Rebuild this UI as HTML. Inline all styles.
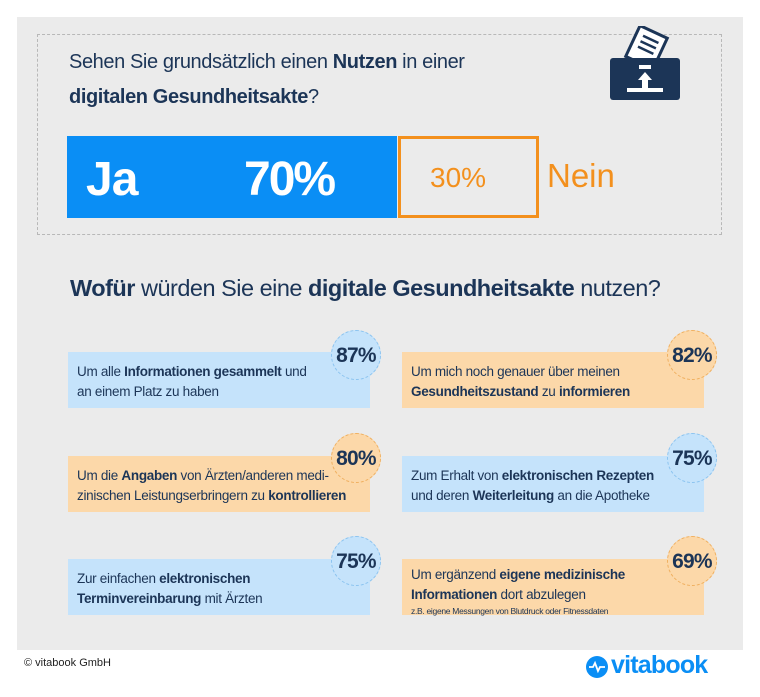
<!DOCTYPE html>
<html><head><meta charset="utf-8"><style>
*{margin:0;padding:0;box-sizing:border-box}
body{width:760px;height:697px;background:#fff;position:relative;font-family:"Liberation Sans",sans-serif;color:#1c3557;overflow:hidden}
.abs{position:absolute}
.panel{left:17px;top:17px;width:726px;height:633px;background:#ebebeb}
.dash{left:37px;top:34px;width:685px;height:201px;border:1px dashed #b8b8b8}
.q{left:69px;font-size:20px;letter-spacing:-0.4px;line-height:28px;color:#1c3557}
.box{width:302px;height:56px;font-size:13.5px;line-height:20px;padding:10px 0 0 9px;letter-spacing:-0.3px}
.bl{background:#c5e3fb}.or{background:#fcd8a9}
.c{width:50px;height:50px;border-radius:50%;font-weight:bold;font-size:21px;text-align:center;line-height:50px;letter-spacing:-0.8px}
.cb{background:#c5e3fb;border:1px dashed #8cc4f0}.co{background:#fcd8a9;border:1px dashed #f0b060}
b{font-weight:bold}
</style></head><body>
<div class="abs panel"></div>
<div class="abs dash"></div>
<div class="abs q" style="top:48px">Sehen Sie grundsätzlich einen <b>Nutzen</b> in einer</div>
<div class="abs q" style="top:83px"><b>digitalen Gesundheitsakte</b>?</div>
<svg class="abs" style="left:608px;top:26px" width="76" height="76" viewBox="0 0 76 76">
<g transform="rotate(25 38 20)"><rect x="24" y="4" width="30" height="34" fill="#fff" stroke="#1c3557" stroke-width="3"/>
<line x1="31" y1="12" x2="48" y2="12" stroke="#1c3557" stroke-width="2.5"/><line x1="31" y1="18" x2="48" y2="18" stroke="#1c3557" stroke-width="2.5"/><line x1="31" y1="24" x2="48" y2="24" stroke="#1c3557" stroke-width="2.5"/></g>
<rect x="2" y="32" width="70" height="42" rx="3" fill="#1c3557"/>
<rect x="31" y="39" width="12" height="4" fill="#fff"/>
<polygon points="37,46 30,54 34,54 34,62 40,62 40,54 44,54" fill="#fff"/>
<rect x="19" y="62" width="36" height="4" fill="#fff"/>
</svg>
<div class="abs" style="left:67px;top:136px;width:330px;height:82px;background:#0a8ef5"></div>
<div class="abs" style="left:86px;top:152px;font-size:48px;font-weight:bold;color:#fff;letter-spacing:-1px">Ja</div>
<div class="abs" style="left:244px;top:152px;font-size:48px;font-weight:bold;color:#fff;letter-spacing:-2px">70%</div>
<div class="abs" style="left:398px;top:136px;width:141px;height:82px;border:3px solid #f3901d"></div>
<div class="abs" style="left:430px;top:162px;font-size:28px;color:#f3901d">30%</div>
<div class="abs" style="left:547px;top:157px;font-size:33px;color:#f3901d">Nein</div>
<div class="abs" style="left:70px;top:275px;font-size:23.5px;letter-spacing:-0.5px"><b>Wofür</b> würden Sie eine <b>digitale Gesundheitsakte</b> nutzen?</div>

<div class="abs box bl" style="left:68px;top:352px">Um alle <b>Informationen gesammelt</b> und<br>an einem Platz zu haben</div>
<div class="abs c cb" style="left:331px;top:330px">87%</div>
<div class="abs box or" style="left:402px;top:352px">Um mich noch genauer über meinen<br><b>Gesundheitszustand</b> zu <b>informieren</b></div>
<div class="abs c co" style="left:667px;top:330px">82%</div>

<div class="abs box or" style="left:68px;top:456px">Um die <b>Angaben</b> von Ärzten/anderen medi-<br>zinischen Leistungserbringern zu <b>kontrollieren</b></div>
<div class="abs c co" style="left:331px;top:433px">80%</div>
<div class="abs box bl" style="left:402px;top:456px">Zum Erhalt von <b>elektronischen Rezepten</b><br>und deren <b>Weiterleitung</b> an die Apotheke</div>
<div class="abs c cb" style="left:667px;top:433px">75%</div>

<div class="abs box bl" style="left:68px;top:559px">Zur einfachen <b>elektronischen</b><br><b>Terminvereinbarung</b> mit Ärzten</div>
<div class="abs c cb" style="left:331px;top:536px">75%</div>
<div class="abs box or" style="left:402px;top:559px;padding-top:6px">Um ergänzend <b>eigene medizinische</b><br><b>Informationen</b> dort abzulegen<div style="font-size:8.5px;line-height:12px">z.B. eigene Messungen von Blutdruck oder Fitnessdaten</div></div>
<div class="abs c co" style="left:667px;top:536px">69%</div>

<div class="abs" style="left:24px;top:657px;font-size:11px;color:#222">© vitabook GmbH</div>
<svg class="abs" style="left:585px;top:655px" width="24" height="24"><circle cx="12" cy="12" r="11" fill="#0a8ef5"/><polyline points="4,12 8,12 10,8 13,16 15,12 20,12" fill="none" stroke="#fff" stroke-width="1.8"/></svg>
<div class="abs" style="left:611px;top:651px;font-size:25px;font-weight:bold;color:#0a8ef5;letter-spacing:-0.8px">vitabook</div>
</body></html>
